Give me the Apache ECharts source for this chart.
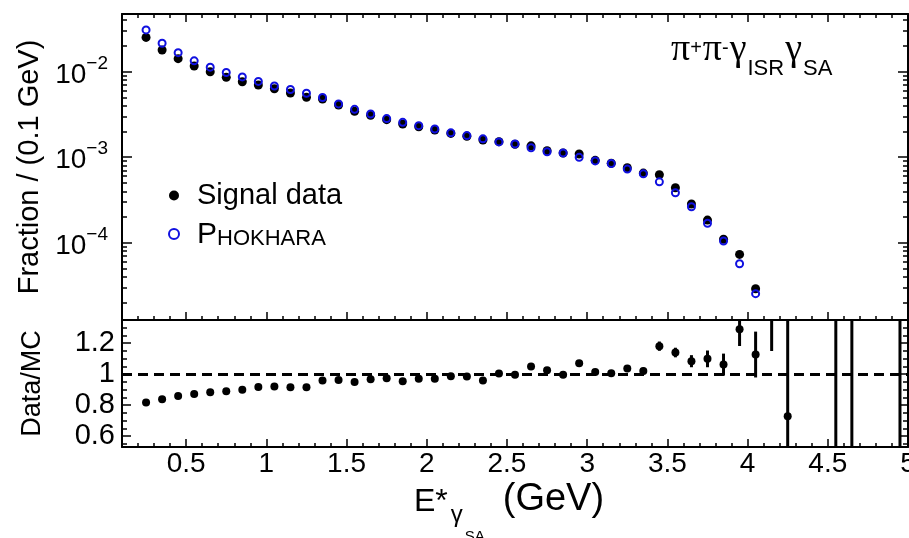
<!DOCTYPE html>
<html>
<head>
<meta charset="utf-8">
<script src="https://cdn.jsdelivr.net/npm/echarts@6/dist/echarts.min.js"></script>
<style>
html,body{margin:0;padding:0;background:#fff;}
#chart{width:909px;height:538px;}
</style>
</head>
<body>
<div id="chart"></div>
<script>
// ---- data (bin centres in GeV) ----
const energy = [0.25,0.35,0.45,0.55,0.65,0.75,0.85,0.95,1.05,1.15,1.25,1.35,1.45,1.55,1.65,1.75,1.85,1.95,2.05,2.15,2.25,2.35,2.45,2.55,2.65,2.75,2.85,2.95,3.05,3.15,3.25,3.35,3.45,3.55,3.65,3.75,3.85,3.95,4.05];
const signalData = [0.0252,0.01796,0.0142,0.01166,0.0100,0.0086,0.00764,0.00699,0.00632,0.00564,0.00502,0.0048,0.00408,0.00344,0.00309,0.00275,0.00245,0.00227,0.00208,0.0019,0.00176,0.00159,0.00152,0.00142,0.00136,0.00119,0.00112,0.00109,0.00092,0.00085,0.000754,0.000653,0.000624,0.00044,0.000284,0.000184,0.000110,0.0000731,0.000029];
const phokhara = [0.0308,0.0215,0.0167,0.0134,0.0113,0.0098,0.0087,0.0077,0.0068,0.0062,0.0056,0.0050,0.0042,0.00363,0.0032,0.00283,0.00256,0.00234,0.00214,0.00193,0.00179,0.00164,0.00151,0.00143,0.00129,0.00116,0.00112,0.000998,0.000906,0.000845,0.000727,0.00064,0.000516,0.000385,0.000264,0.000169,0.000105,0.0000568,0.0000254];
const ratioEnergy = [0.25,0.35,0.45,0.55,0.65,0.75,0.85,0.95,1.05,1.15,1.25,1.35,1.45,1.55,1.65,1.75,1.85,1.95,2.05,2.15,2.25,2.35,2.45,2.55,2.65,2.75,2.85,2.95,3.05,3.15,3.25,3.35,3.45,3.55,3.65,3.75,3.85,3.95,4.05,4.15,4.25,4.55,4.65,4.95];
const ratio = [0.817,0.839,0.86,0.873,0.884,0.89,0.899,0.918,0.92,0.916,0.916,0.959,0.963,0.95,0.968,0.974,0.955,0.97,0.97,0.987,0.985,0.96,1.004,0.996,1.05,1.026,0.996,1.071,1.015,1.006,1.037,1.021,1.181,1.14,1.084,1.099,1.062,1.29,1.127,1.6,0.729,2.0,2.0,2.0];
const ratioErr = [0.004,0.004,0.004,0.004,0.005,0.005,0.005,0.005,0.006,0.006,0.006,0.006,0.006,0.006,0.006,0.006,0.006,0.006,0.007,0.008,0.008,0.009,0.01,0.011,0.012,0.013,0.014,0.015,0.016,0.017,0.019,0.021,0.03,0.031,0.039,0.054,0.071,0.108,0.148,0.45,0.75,1.6,1.6,1.6];

// ---- tick values ----
const xMajorTicks = [0.5,1,1.5,2,2.5,3,3.5,4,4.5,5];
const xMinorTicks = [0.2,0.3,0.4,0.6,0.7,0.8,0.9,1.1,1.2,1.3,1.4,1.6,1.7,1.8,1.9,2.1,2.2,2.3,2.4,2.6,2.7,2.8,2.9,3.1,3.2,3.3,3.4,3.6,3.7,3.8,3.9,4.1,4.2,4.3,4.4,4.6,4.7,4.8,4.9];
const yMajorTicks = [1e-4,1e-3,1e-2];
const yMinorTicks = [2e-5,3e-5,4e-5,5e-5,6e-5,7e-5,8e-5,9e-5,2e-4,3e-4,4e-4,5e-4,6e-4,7e-4,8e-4,9e-4,2e-3,3e-3,4e-3,5e-3,6e-3,7e-3,8e-3,9e-3,2e-2,3e-2,4e-2];
const rMajorTicks = [0.6,0.8,1,1.2];
const rMinorTicks = [0.55,0.65,0.7,0.75,0.85,0.9,0.95,1.05,1.1,1.15,1.25,1.3];

const FONT = "'Liberation Sans', Arial, Helvetica, sans-serif";
const SERIF = "'Liberation Serif', 'Times New Roman', serif";
const BLACK = '#000000';
const BLUE = '#1010e0';

const X_MIN = 0.1, X_MAX = 5.0;
const Y_MIN = 1.25e-5, Y_MAX = 0.0473;
const R_MIN = 0.53, R_MAX = 1.35;

function axisBase(gridIndex, position, ticks, len, showLine) {
  return {
    gridIndex: gridIndex,
    position: position,
    axisLine: { show: showLine, onZero: false, lineStyle: { color: BLACK, width: 2 } },
    axisTick: ticks ? { show: true, inside: true, length: len, customValues: ticks, lineStyle: { color: BLACK, width: 1.5 } } : { show: false },
    axisLabel: { show: false },
    splitLine: { show: false },
    minorTick: { show: false },
    minorSplitLine: { show: false }
  };
}
function xAx(g, pos, ticks, len, line) {
  return Object.assign(axisBase(g, pos, ticks, len, line), { type: 'value', min: X_MIN, max: X_MAX });
}
function yLog(g, pos, ticks, len, line) {
  return Object.assign(axisBase(g, pos, ticks, len, line), { type: 'log', logBase: 10, min: Y_MIN, max: Y_MAX });
}
function yRat(g, pos, ticks, len, line) {
  return Object.assign(axisBase(g, pos, ticks, len, line), { type: 'value', min: R_MIN, max: R_MAX });
}

// x axes
const xAxes = [
  xAx(0, 'bottom', xMajorTicks, 8, true),
  xAx(0, 'top', xMajorTicks, 8, true),
  xAx(1, 'bottom', xMinorTicks, 4, false),
  xAx(1, 'top', xMinorTicks, 4, false),
  xAx(2, 'bottom', xMajorTicks, 8, true),
  xAx(2, 'top', null, 0, true),
  xAx(3, 'bottom', xMinorTicks, 4, false),
  xAx(3, 'top', null, 0, false)
];
xAxes[4].axisLabel = {
  show: true, customValues: xMajorTicks, margin: 3,
  alignMinLabel: 'center', alignMaxLabel: 'center',
  color: BLACK, fontFamily: FONT, fontSize: 28
};
xAxes[4].name = '{e|E*}{g|γ}{s|SA}{u|(GeV)}';
xAxes[4].nameLocation = 'middle';
xAxes[4].nameGap = 33;
xAxes[4].nameTextStyle = {
  color: BLACK, fontFamily: FONT,
  rich: {
    e: { fontFamily: FONT, fontSize: 32, lineHeight: 66, verticalAlign: 'top', color: BLACK, padding: [6, 0, 0, 0] },
    g: { fontFamily: FONT, fontSize: 24, lineHeight: 66, verticalAlign: 'top', color: BLACK, padding: [23, 0, 0, 3] },
    s: { fontFamily: FONT, fontSize: 15, lineHeight: 66, verticalAlign: 'top', color: BLACK, padding: [49, 0, 0, 2] },
    u: { fontFamily: FONT, fontSize: 38, lineHeight: 66, verticalAlign: 'top', color: BLACK, padding: [1, 12, 0, 18] }
  }
};

// y axes
const yAxes = [
  yLog(0, 'left', yMajorTicks, 10, true),
  yLog(0, 'right', yMajorTicks, 10, true),
  yLog(1, 'left', yMinorTicks, 5, false),
  yLog(1, 'right', yMinorTicks, 5, false),
  yRat(2, 'left', rMajorTicks, 9, true),
  yRat(2, 'right', rMajorTicks, 9, true),
  yRat(3, 'left', rMinorTicks, 5, false),
  yRat(3, 'right', rMinorTicks, 5, false)
];
yAxes[0].axisLabel = {
  show: true, customValues: yMajorTicks, margin: 14, color: BLACK, fontFamily: FONT,
  formatter: function (v) {
    const ex = Math.round(Math.log10(v));
    return '{a|10}{b|\u2212' + (-ex) + '}';
  },
  rich: {
    a: { fontFamily: FONT, fontSize: 28, lineHeight: 28, verticalAlign: 'bottom', color: BLACK },
    b: { fontFamily: FONT, fontSize: 19, lineHeight: 35, verticalAlign: 'top', color: BLACK }
  }
};
yAxes[0].name = 'Fraction / (0.1 GeV)';
yAxes[0].nameLocation = 'middle';
yAxes[0].nameGap = 77;
yAxes[0].nameTextStyle = { color: BLACK, fontFamily: FONT, fontSize: 29 };

yAxes[4].axisLabel = {
  show: true, customValues: rMajorTicks, margin: 7, color: BLACK, fontFamily: FONT, fontSize: 29
};
yAxes[4].name = 'Data/MC';
yAxes[4].nameLocation = 'middle';
yAxes[4].nameGap = 76;
yAxes[4].nameTextStyle = { color: BLACK, fontFamily: FONT, fontSize: 27 };

const gridBox = function (top, height) {
  return { left: 122, top: top, width: 786, height: height, containLabel: false, outerBoundsMode: 'none' };
};

const option = {
  animation: false,
  backgroundColor: '#ffffff',
  grid: [gridBox(14, 306), gridBox(14, 306), gridBox(320, 127), gridBox(320, 127)],
  title: {
    left: 671, top: 30, padding: 0,
    text: '{p|π}{sup|+}{p|π}{sup|-}{g|γ}{sub|ISR}{g|γ}{sub|SA}',
    textStyle: {
      fontWeight: 'normal', color: BLACK,
      rich: {
        p: { fontFamily: SERIF, fontWeight: 'normal', fontSize: 38, lineHeight: 62, verticalAlign: 'top', color: BLACK, padding: [1, 0, 0, 0] },
        g: { fontFamily: SERIF, fontWeight: 'normal', fontSize: 38, lineHeight: 62, verticalAlign: 'top', color: BLACK, padding: [1, 0, 0, 0] },
        sup: { fontFamily: FONT, fontWeight: 'normal', fontSize: 20, lineHeight: 62, verticalAlign: 'top', color: BLACK, padding: [8, 1, 0, 0] },
        sub: { fontFamily: FONT, fontWeight: 'normal', fontSize: 22, lineHeight: 62, verticalAlign: 'top', color: BLACK, padding: [28, 1, 0, 1] }
      }
    }
  },
  legend: {
    orient: 'vertical', left: 163, top: 176, itemGap: 10,
    itemWidth: 10, itemHeight: 10, icon: 'circle',
    selectedMode: false,
    data: [
      { name: 'Signal data', itemStyle: { color: BLACK, opacity: 1 } },
      { name: 'PHOKHARA', itemStyle: { color: '#ffffff', borderColor: BLUE, borderWidth: 2, opacity: 1 } }
    ],
    formatter: function (name) {
      return name === 'PHOKHARA' ? '{P|P}{H|HOKHARA}' : '{S|Signal data}';
    },
    textStyle: {
      color: BLACK, fontFamily: FONT,
      rich: {
        S: { fontFamily: FONT, fontSize: 29, lineHeight: 32, color: BLACK, padding: [0, 0, 0, 13] },
        P: { fontFamily: FONT, fontSize: 30, lineHeight: 32, verticalAlign: 'bottom', color: BLACK, padding: [0, 0, 0, 13] },
        H: { fontFamily: FONT, fontSize: 22, lineHeight: 26, verticalAlign: 'bottom', color: BLACK }
      }
    }
  },
  xAxis: xAxes,
  yAxis: yAxes,
  series: [
    {
      name: 'Signal data', type: 'scatter', xAxisIndex: 0, yAxisIndex: 0,
      symbol: 'circle', symbolSize: 9,
      itemStyle: { color: BLACK, opacity: 1 },
      data: energy.map(function (e, i) { return [e, signalData[i]]; }),
      z: 3
    },
    {
      name: 'PHOKHARA', type: 'scatter', xAxisIndex: 0, yAxisIndex: 0,
      symbol: 'circle', symbolSize: 7,
      itemStyle: { color: 'rgba(255,255,255,0)', borderColor: BLUE, borderWidth: 2, opacity: 1 },
      data: energy.map(function (e, i) { return [e, phokhara[i]]; }),
      z: 4
    },
    {
      name: 'Data/MC error', type: 'custom', xAxisIndex: 4, yAxisIndex: 4,
      clip: true,
      encode: { x: 0, y: 1 },
      data: ratioEnergy.map(function (e, i) { return [e, ratio[i], ratioErr[i]]; }),
      renderItem: function (params, api) {
        const x = api.value(0), y = api.value(1), er = api.value(2);
        const lo = api.coord([x, y - er]);
        const hi = api.coord([x, y + er]);
        const cs = params.coordSys;
        const top = cs.y, bottom = cs.y + cs.height;
        const y1 = Math.max(top, Math.min(bottom, hi[1]));
        const y2 = Math.max(top, Math.min(bottom, lo[1]));
        return { type: 'line', shape: { x1: lo[0], y1: y1, x2: lo[0], y2: y2 }, style: { stroke: BLACK, lineWidth: 3 } };
      },
      z: 3
    },
    {
      name: 'Data/MC', type: 'scatter', xAxisIndex: 4, yAxisIndex: 4,
      symbol: 'circle', symbolSize: 8, clip: true,
      itemStyle: { color: BLACK, opacity: 1 },
      data: ratioEnergy.map(function (e, i) { return [e, ratio[i]]; }),
      markLine: {
        silent: true, symbol: 'none', label: { show: false },
        lineStyle: { color: BLACK, width: 3, type: [10, 6], opacity: 1 },
        data: [{ yAxis: 1 }]
      },
      z: 4
    }
  ]
};

const chart = echarts.init(document.getElementById('chart'), null, { renderer: 'canvas' });
chart.setOption(option);
</script>
</body>
</html>
